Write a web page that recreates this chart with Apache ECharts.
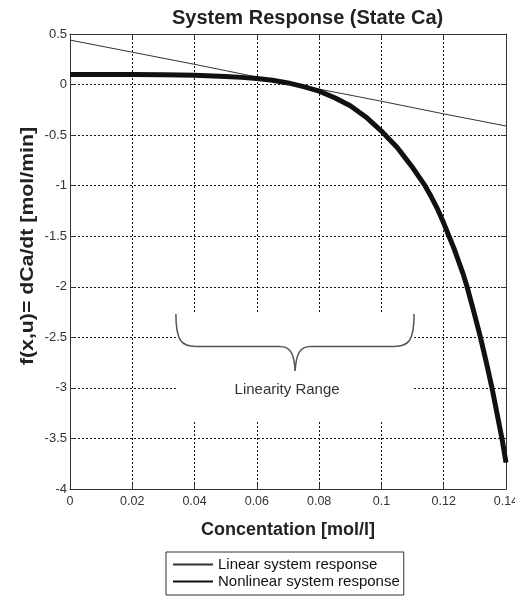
<!DOCTYPE html>
<html><head><meta charset="utf-8">
<script src="https://cdn.jsdelivr.net/npm/echarts@6/dist/echarts.min.js"></script>
<style>html,body{margin:0;padding:0;background:#fff;overflow:hidden}#c{width:515px;height:599px}</style>
</head><body><div id="c"></div>
<script>
// ---- data ----
const titleText = 'System Response (State Ca)';
const xName = 'Concentation [mol/l]';
const yName = 'f(x,u)= dCa/dt [mol/min]';
const seriesNames = ['Linear system response', 'Nonlinear system response'];

const linearX = [0, 0.02, 0.04, 0.06, 0.08, 0.1, 0.12, 0.14];
const linearY = [0.44, 0.32, 0.2, 0.075, -0.045, -0.165, -0.29, -0.41];

const nonlinX = [0, 0.01, 0.02, 0.03, 0.04, 0.05, 0.055, 0.06, 0.065, 0.07, 0.075, 0.08, 0.085, 0.09, 0.095, 0.1, 0.1025, 0.105, 0.1075, 0.11, 0.112, 0.114, 0.116, 0.118, 0.12, 0.1217, 0.1233, 0.1248, 0.1262, 0.1275, 0.1297, 0.1318, 0.1337, 0.1355, 0.1371, 0.1387, 0.14];
const nonlinY = [0.1, 0.1, 0.1, 0.097, 0.092, 0.08, 0.071, 0.06, 0.043, 0.016, -0.02, -0.065, -0.13, -0.21, -0.32, -0.46, -0.54, -0.62, -0.72, -0.82, -0.91, -1.0, -1.11, -1.23, -1.37, -1.5, -1.62, -1.75, -1.87, -2.0, -2.25, -2.5, -2.75, -3.0, -3.25, -3.5, -3.74];

const xRange = [0, 0.14], xStep = 0.02;
const yRange = [-4, 0.5], yStep = 0.5;

// annotation ("Linearity Range" brace) anchors in data units
const annoLabel = 'Linearity Range';
const braceX = [0.034, 0.0723, 0.1105];
const braceY = [-2.27, -2.59, -2.83];
const blankY = [-2.265, -3.33];
const labelPos = [0.0697, -3.02];

// ---- chart ----
const FONT = '"Liberation Sans", Arial, sans-serif';
const toPairs = (xs, ys) => xs.map((x, i) => [x, ys[i]]);
const gridLine = { show: true, lineStyle: { color: '#111', type: [2, 2], width: 1 } };
const axLine = { show: true, onZero: false, lineStyle: { color: '#333', width: 1 } };
const tick = { show: true, inside: true, length: 5, lineStyle: { color: '#333' } };

const chart = echarts.init(document.getElementById('c'), null, { renderer: 'canvas' });
chart.setOption({
  animation: false,
  backgroundColor: '#fff',
  textStyle: { fontFamily: FONT },
  title: {
    text: titleText, left: 167, top: 3,
    textStyle: { fontFamily: FONT, fontSize: 20, fontWeight: 'bold', color: '#222' }
  },
  grid: { left: 70, width: 436, top: 34, height: 455, containLabel: false, outerBoundsMode: 'none' },
  legend: {
    data: seriesNames, orient: 'vertical', left: 166, top: 552,
    padding: [5, 4, 6, 6], itemGap: 2, itemWidth: 40, itemHeight: 16,
    borderColor: '#333', borderWidth: 1, backgroundColor: '#fff',
    itemStyle: { opacity: 0 },
    textStyle: { fontFamily: FONT, fontSize: 15, color: '#111' }
  },
  xAxis: [{
    type: 'value', min: xRange[0], max: xRange[1], interval: xStep,
    name: xName, nameLocation: 'middle', nameGap: 32,
    nameTextStyle: { fontFamily: FONT, fontSize: 18, fontWeight: 'bold', color: '#222' },
    axisLine: axLine, axisTick: tick, splitLine: gridLine,
    axisLabel: { fontFamily: FONT, fontSize: 12.5, color: '#333', margin: 6, hideOverlap: false }
  }, {
    type: 'value', position: 'top', min: xRange[0], max: xRange[1], interval: xStep,
    axisLine: axLine, axisTick: tick, splitLine: { show: false }, axisLabel: { show: false }
  }],
  yAxis: [{
    type: 'value', min: yRange[0], max: yRange[1], interval: yStep,
    axisLine: axLine, axisTick: tick, splitLine: gridLine,
    axisLabel: { fontFamily: FONT, fontSize: 13, color: '#333', margin: 3 }
  }, {
    type: 'value', position: 'right', min: yRange[0], max: yRange[1], interval: yStep,
    axisLine: axLine, axisTick: tick, splitLine: { show: false }, axisLabel: { show: false }
  }],
  series: [{
    name: seriesNames[0], type: 'line', data: toPairs(linearX, linearY),
    symbol: 'none', lineStyle: { color: '#333', width: 1 }, itemStyle: { color: '#333' },
    z: 3,
    markArea: {
      silent: true, itemStyle: { color: '#fff', opacity: 1 },
      data: [[{ coord: [braceX[0], blankY[0]] }, { coord: [braceX[2], blankY[1]] }]]
    }
  }, {
    name: seriesNames[1], type: 'line', data: toPairs(nonlinX, nonlinY),
    symbol: 'none', smooth: false,
    lineStyle: { color: '#111', width: 5, join: 'round' }, itemStyle: { color: '#111' }, z: 4
  }]
});

// brace + label, positioned through the axis scales
const P = (x, y) => chart.convertToPixel({ xAxisIndex: 0, yAxisIndex: 0 }, [x, y]);
const [l0x, l0y] = P(braceX[0], braceY[0]);
const [r0x, r0y] = P(braceX[2], braceY[0]);
const hy = P(braceX[1], braceY[1])[1];
const [mx, ty] = P(braceX[1], braceY[2]);
const r = 20;
const bStyle = { fill: null, stroke: '#555', lineWidth: 1.5 };
const bz = (x1, y1, c1x, c1y, c2x, c2y, x2, y2) => ({
  type: 'bezierCurve', z: 10, silent: true, style: bStyle,
  shape: { x1, y1, cpx1: c1x, cpy1: c1y, cpx2: c2x, cpy2: c2y, x2, y2 }
});
const ln = (x1, y1, x2, y2) => ({
  type: 'line', z: 10, silent: true, style: bStyle, shape: { x1, y1, x2, y2 }
});
const [tx, tyy] = P(labelPos[0], labelPos[1]);
chart.setOption({
  graphic: [
    bz(l0x, l0y, l0x, hy - 5, l0x + 6, hy, l0x + r, hy),
    ln(l0x + r, hy, mx - 15, hy),
    bz(mx - 15, hy, mx - 5, hy, mx - 1, hy + 7, mx, ty),
    bz(mx, ty, mx + 1, hy + 7, mx + 5, hy, mx + 15, hy),
    ln(mx + 15, hy, r0x - r, hy),
    bz(r0x - r, hy, r0x - 6, hy, r0x, hy - 5, r0x, r0y),
    {
      type: 'text', z: 10, silent: true, x: tx, y: tyy,
      style: { text: annoLabel, fill: '#333', font: '15px ' + FONT, align: 'center', verticalAlign: 'middle' }
    },
    {
      type: 'text', z: 10, silent: true, x: 28, y: 246, rotation: Math.PI / 2, scaleX: 1.12,
      style: { text: yName, fill: '#222', font: 'bold 19px ' + FONT, align: 'center', verticalAlign: 'middle' }
    }
  ]
});
</script></body></html>
